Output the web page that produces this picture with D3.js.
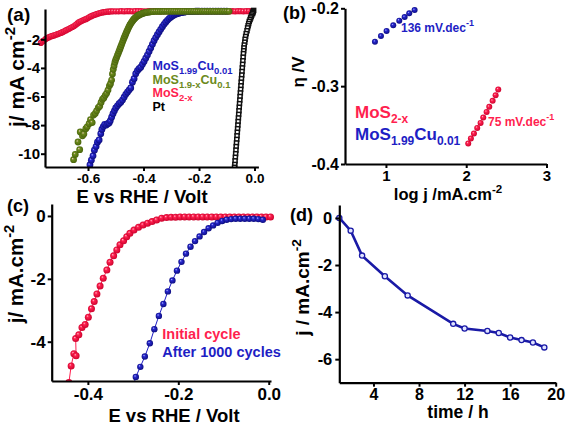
<!DOCTYPE html>
<html><head><meta charset="utf-8">
<script src="https://cdn.jsdelivr.net/npm/d3@7"></script>
<style>
body{margin:0;background:#fff}
svg{display:block}
text{font-family:"Liberation Sans",Arial,Helvetica,sans-serif;font-weight:bold}
</style>
</head><body>
<svg id="c" width="567" height="426"></svg>
<script>
// ---------- Panel (a) data ----------
const aRedE = [-0.770,-0.764,-0.758,-0.752,-0.746,-0.740,-0.734,-0.728,-0.722,-0.716,-0.710,-0.704,-0.698,-0.692,-0.686,-0.680,-0.674,-0.668,-0.662,-0.656,-0.650,-0.644,-0.638,-0.632,-0.626,-0.620,-0.614,-0.608,-0.602,-0.596,-0.590,-0.584,-0.578,-0.572,-0.566,-0.560,-0.554,-0.548,-0.542,-0.536,-0.530,-0.524,-0.518,-0.510,
 -0.500,-0.490,-0.480,-0.470,-0.460,-0.450,-0.440,-0.430,-0.420,-0.410,-0.400,-0.390,-0.380,-0.370,-0.360,-0.350,-0.340,-0.330,-0.320,-0.310,-0.300,-0.290,-0.280,-0.270,-0.260,-0.250,-0.240,-0.230,-0.220,-0.210,-0.200,-0.190,-0.180,-0.170,-0.160,-0.150,-0.140,-0.130,-0.120,-0.110,-0.100,-0.090,-0.080,-0.070,-0.060,-0.050,-0.040,-0.030,-0.020,-0.010];
const aRedJ = [-2.25,-2.15,-2.07,-1.97,-1.90,-1.85,-1.80,-1.76,-1.73,-1.68,-1.64,-1.60,-1.55,-1.50,-1.44,-1.38,-1.32,-1.26,-1.20,-1.14,-1.07,-0.98,-0.89,-0.80,-0.74,-0.69,-0.64,-0.59,-0.53,-0.46,-0.40,-0.35,-0.30,-0.26,-0.22,-0.18,-0.15,-0.12,-0.10,-0.08,-0.07,-0.06,-0.05,-0.04,
 -0.04,-0.04,-0.03,-0.04,-0.03,-0.03,-0.04,-0.03,-0.03,-0.03,-0.04,-0.04,-0.03,-0.04,-0.03,-0.03,-0.04,-0.03,-0.03,-0.03,-0.04,-0.04,-0.03,-0.04,-0.03,-0.03,-0.04,-0.03,-0.03,-0.03,-0.04,-0.04,-0.03,-0.04,-0.03,-0.03,-0.04,-0.03,-0.03,-0.03,-0.04,-0.04,-0.03,-0.04,-0.03,-0.03,-0.04,-0.03,-0.03,-0.03];
const aBlueE = [-0.593,-0.588,-0.582,-0.577,-0.571,-0.566,-0.560,-0.554,-0.550,-0.545,-0.540,-0.534,-0.529,-0.524,-0.520,-0.515,-0.510,-0.505,-0.500,-0.494,-0.488,-0.482,-0.476,-0.470,-0.464,-0.458,-0.452,-0.446,-0.440,-0.434,-0.428,-0.422,-0.416,-0.410,-0.404,-0.398,-0.392,-0.386,-0.380,-0.374,-0.368,-0.362,-0.356,-0.350,-0.344,-0.338,-0.332,-0.326,-0.320,-0.314,-0.308,-0.302,-0.296,-0.290,-0.284,-0.278,-0.272,-0.266,-0.260,-0.254,-0.248,-0.242,-0.236,-0.230,-0.224,-0.218,-0.212,-0.206,-0.200,-0.190,-0.180,-0.170,-0.160,-0.150,-0.140,-0.130,-0.120,-0.110,-0.100];
const aBlueJ = [-10.79,-10.45,-10.15,-9.75,-9.50,-9.20,-9.04,-8.60,-8.30,-8.10,-7.95,-8.00,-7.90,-7.85,-7.70,-7.45,-7.20,-7.00,-6.80,-6.65,-6.50,-6.40,-6.25,-6.05,-5.85,-5.70,-5.55,-5.40,-5.00,-4.75,-4.40,-4.20,-4.05,-3.95,-3.75,-3.55,-3.32,-3.10,-2.85,-2.60,-2.35,-2.10,-1.88,-1.68,-1.48,-1.30,-1.12,-0.95,-0.80,-0.67,-0.55,-0.45,-0.37,-0.30,-0.25,-0.21,-0.17,-0.14,-0.12,-0.10,-0.08,-0.07,-0.06,-0.05,-0.04,-0.04,-0.03,-0.03,-0.03,-0.03,-0.03,-0.03,-0.03,-0.03,-0.03,-0.03,-0.03,-0.03,-0.03];
const aGreenE = [-0.652,-0.646,-0.636,-0.630,-0.628,-0.620,-0.615,-0.608,-0.603,-0.596,-0.591,-0.585,-0.580,-0.574,-0.569,-0.563,-0.558,-0.553,-0.548,-0.543,-0.538,-0.533,-0.528,-0.523,-0.519,-0.515,-0.512,-0.509,-0.506,-0.503,-0.500,-0.497,-0.494,-0.491,-0.488,-0.485,-0.482,-0.479,-0.476,-0.473,-0.470,-0.467,-0.464,-0.461,-0.458,-0.455,-0.452,-0.449,-0.446,-0.443,-0.440,-0.437,-0.434,-0.431,-0.428,-0.425,-0.422,-0.419,-0.416,-0.413,-0.410,-0.406,-0.402,-0.398,-0.394,-0.390,-0.385,-0.380,-0.375,-0.370,-0.364,
 -0.356,-0.348,-0.340,-0.332,-0.324,-0.316,-0.308,-0.300,-0.292,-0.284,-0.276,-0.268,-0.260,-0.252,-0.244,-0.236,-0.228,-0.220,-0.212,-0.204,-0.196,-0.188,-0.180,-0.172,-0.164,-0.156,-0.148,-0.140,-0.132,-0.124,-0.116,-0.108,-0.100,-0.092];
const aGreenJ = [-10.42,-10.05,-9.18,-9.72,-8.48,-8.75,-8.62,-8.25,-8.12,-7.90,-7.62,-7.82,-7.30,-7.18,-7.00,-6.78,-6.68,-6.42,-6.20,-6.10,-5.92,-5.78,-5.55,-5.25,-5.10,-4.85,-4.42,-4.10,-3.85,-3.60,-3.42,-3.28,-3.12,-2.98,-2.82,-2.67,-2.52,-2.37,-2.21,-2.05,-1.90,-1.76,-1.62,-1.49,-1.36,-1.23,-1.11,-1.00,-0.90,-0.81,-0.73,-0.65,-0.58,-0.52,-0.46,-0.41,-0.37,-0.33,-0.30,-0.27,-0.24,-0.21,-0.18,-0.16,-0.14,-0.12,-0.10,-0.09,-0.08,-0.07,-0.06,
 -0.05,-0.05,-0.05,-0.05,-0.04,-0.04,-0.04,-0.04,-0.04,-0.04,-0.04,-0.04,-0.04,-0.04,-0.04,-0.04,-0.04,-0.04,-0.04,-0.04,-0.04,-0.04,-0.04,-0.04,-0.04,-0.04,-0.04,-0.04,-0.04,-0.04,-0.04,-0.04,-0.04,-0.04];
const aPtE = [-0.003,-0.005,-0.006,-0.007,-0.010,-0.012,-0.014,-0.016,-0.019,-0.021,-0.023,-0.025,-0.027,-0.030,-0.032,-0.034,-0.035,-0.037,-0.038,-0.039,-0.040,-0.041,-0.042,-0.043,-0.044,-0.045,-0.046,-0.047,-0.048,-0.049,-0.050,-0.051,-0.052,-0.053,-0.054,-0.055,-0.056,-0.057,-0.058,-0.059,-0.060,-0.061,-0.062,-0.063,-0.064,-0.065,-0.066,-0.067,-0.068,-0.069,-0.070,-0.071,-0.072];
const aPtJ = [0.02,-0.05,-0.12,-0.20,-0.30,-0.40,-0.50,-0.62,-0.75,-0.90,-1.05,-1.20,-1.40,-1.60,-1.80,-2.00,-2.20,-2.40,-2.60,-2.80,-3.00,-3.25,-3.50,-3.75,-4.00,-4.25,-4.50,-4.75,-5.00,-5.25,-5.50,-5.75,-6.00,-6.25,-6.50,-6.75,-7.00,-7.25,-7.50,-7.75,-8.00,-8.25,-8.50,-8.75,-9.00,-9.25,-9.50,-9.75,-10.00,-10.25,-10.50,-10.75,-10.95];
const aXTicks = [-0.6,-0.4,-0.2,0.0];
const aYTicks = [-10,-8,-6,-4,-2];

// ---------- Panel (b) data ----------
const bBlueLogJ = [0.863,0.938,1.008,1.091,1.166,1.233,1.290,1.357];
const bBlueEta  = [-0.2430,-0.2356,-0.2291,-0.2218,-0.2159,-0.2112,-0.2064,-0.2022];
const bRedLogJ  = [2.025,2.058,2.096,2.137,2.179,2.212,2.254,2.287,2.329,2.366,2.399];
const bRedEta   = [-0.3737,-0.3673,-0.3609,-0.3537,-0.3472,-0.3403,-0.3331,-0.3266,-0.3189,-0.3116,-0.3042];
const bXTicks = [1,2,3];
const bYTicks = [-0.4,-0.3,-0.2];

// ---------- Panel (c) data ----------
const cInitE = [-0.442,-0.437,-0.431,-0.426,-0.427,-0.420,-0.413,-0.406,-0.399,-0.392,-0.386,-0.380,-0.373,-0.366,-0.358,-0.351,-0.343,-0.336,-0.329,-0.321,-0.314,-0.307,-0.298,-0.288,-0.278,-0.268,-0.258,-0.248,-0.237,-0.226,-0.216,-0.206,-0.196,-0.186,-0.176,-0.166,-0.156,-0.146,-0.136,-0.126,-0.116,-0.106,-0.096,-0.086,-0.076,-0.066,-0.056,-0.046,-0.036,-0.026,-0.016,-0.006,0.004];
const cInitJ = [-5.30,-4.77,-4.38,-4.45,-3.90,-3.78,-3.55,-3.45,-3.22,-2.95,-2.72,-2.48,-2.23,-1.98,-1.72,-1.47,-1.27,-1.08,-0.92,-0.79,-0.66,-0.55,-0.45,-0.36,-0.29,-0.23,-0.18,-0.13,-0.07,-0.05,-0.04,-0.04,-0.03,-0.03,-0.03,-0.03,-0.03,-0.03,-0.03,-0.03,-0.03,-0.03,-0.03,-0.03,-0.03,-0.03,-0.03,-0.03,-0.03,-0.03,-0.03,-0.03,-0.03];
const cAfterE = [-0.300,-0.294,-0.284,-0.274,-0.263,-0.253,-0.243,-0.233,-0.223,-0.213,-0.203,-0.193,-0.183,-0.173,-0.163,-0.153,-0.143,-0.133,-0.123,-0.113,-0.103,-0.093,-0.083,-0.073,-0.063,-0.053,-0.043,-0.033,-0.023,-0.013];
const cAfterJ = [-5.45,-5.12,-4.80,-4.47,-4.05,-3.60,-3.18,-2.80,-2.40,-2.05,-1.74,-1.46,-1.20,-0.98,-0.80,-0.65,-0.51,-0.39,-0.30,-0.22,-0.16,-0.12,-0.10,-0.09,-0.09,-0.09,-0.09,-0.09,-0.10,-0.12];
const cXTicks = [-0.4,-0.2,0.0];
const cYTicks = [-4,-2,0];

// ---------- Panel (d) data ----------
const dTime = [1,2,3,5,7,11,12,14,15,16,17,18,19];
const dJ    = [0,-0.54,-1.60,-2.48,-3.29,-4.50,-4.70,-4.80,-4.89,-5.08,-5.19,-5.29,-5.50];
const dXTicks = [4,8,12,16,20];
const dYTicks = [-6,-4,-2,0];

// ---------- colours ----------
const RED = "#ff1f4f", BLUE = "#1e1ec4", GREEN = "#6b8a1c", DBLUE = "#1a1aa6";

const svg = d3.select("#c");
const defs = svg.append("defs");
function ball(id, hi, mid, dark){
  const g = defs.append("radialGradient").attr("id", id)
    .attr("cx","50%").attr("cy","50%").attr("r","55%").attr("fx","35%").attr("fy","32%");
  g.append("stop").attr("offset","0%").attr("stop-color",hi);
  g.append("stop").attr("offset","30%").attr("stop-color",mid);
  g.append("stop").attr("offset","100%").attr("stop-color",dark);
}
ball("gRedA", "#ffd6de", "#ff2a55", "#d0002c");
ball("gBlue", "#c0c4ff", "#2828d0", "#0a0a78");
ball("gGreen", "#f2c6c6", "#6c8c1c", "#46600a");
ball("gRed", "#ffc0cc", "#ff2050", "#c8002a");

const pts = (xs, ys) => xs.map((v,i)=>[v, ys[i]]).filter(p => p[1] !== undefined);
const fmtDash = f => (v => f(v).replace("\u2212","-"));

function rich(sel, parts, fs, small){
  let shift = 0;
  parts.forEach(([t,k]) => {
    const target = k === "sub" ? fs*0.28 : (k === "sup" ? -fs*0.42 : 0);
    sel.append("tspan").attr("dy", (target - shift).toFixed(2))
       .attr("font-size", k === "n" ? fs : (small || fs*0.72)).text(t);
    shift = target;
  });
}

function panel(cfg){
  const x = d3.scaleLinear().domain(cfg.xd).range([cfg.x0, cfg.x1]);
  const y = d3.scaleLinear().domain(cfg.yd).range([cfg.y0, cfg.y1]);
  const g = svg.append("g");
  const clipId = "clip" + cfg.id;
  defs.append("clipPath").attr("id", clipId).append("rect")
    .attr("x", cfg.x0 - 12).attr("y", cfg.y1 - 8)
    .attr("width", cfg.x1 - cfg.x0 + 20).attr("height", cfg.y0 - cfg.y1 + 9);
  const plot = g.append("g").attr("clip-path", `url(#${clipId})`);
  const xa = g.append("g").attr("transform", `translate(0,${cfg.y0})`)
    .call(d3.axisBottom(x).tickValues(cfg.xt).tickFormat(fmtDash(cfg.xf))
      .tickSize(4).tickSizeOuter(0).tickPadding(cfg.xpad));
  const ya = g.append("g").attr("transform", `translate(${cfg.x0},0)`)
    .call(d3.axisLeft(y).tickValues(cfg.yt).tickFormat(fmtDash(cfg.yf))
      .tickSize(4).tickSizeOuter(0).tickPadding(cfg.ypad));
  [xa, ya].forEach((a,i) => {
    a.attr("font-family", null).attr("font-size", null);
    a.select(".domain").attr("stroke","#000").attr("stroke-width",2.2);
    a.selectAll(".tick line").attr("stroke","#000").attr("stroke-width",2);
    a.selectAll(".tick text").attr("fill","#000")
      .attr("font-size", i === 0 ? cfg.xfs : cfg.yfs);
  });
  return {g, plot, x, y};
}

function balls(p, data, grad, r){
  p.plot.append("g").selectAll("circle").data(data).join("circle")
    .attr("cx", d => p.x(d[0])).attr("cy", d => p.y(d[1])).attr("r", r)
    .attr("fill", `url(#${grad})`);
}
function thinLine(p, data, color, w){
  p.plot.append("path").datum(data)
    .attr("d", d3.line().x(d=>p.x(d[0])).y(d=>p.y(d[1])))
    .attr("fill","none").attr("stroke",color).attr("stroke-width",w);
}

// ================= Panel (a) =================
const A = panel({id:"a", x0:45, x1:258.4, y0:167, y1:9, xd:[-0.755,0.014], yd:[-10.93,0.12],
  xt:aXTicks, yt:aYTicks, xf:d3.format(".1f"), yf:d3.format("d"), xpad:2, ypad:1, xfs:13.5, yfs:15});
balls(A, pts(aRedE, aRedJ), "gRedA", 3.1);
balls(A, pts(aBlueE, aBlueJ), "gBlue", 3.4);
balls(A, pts(aGreenE, aGreenJ), "gGreen", 3.4);
A.plot.append("g").selectAll("rect").data(pts(aPtE, aPtJ)).join("rect")
  .attr("x", d => A.x(d[0]) - 2).attr("y", d => A.y(d[1]) - 2)
  .attr("width", 4).attr("height", 4)
  .attr("fill", "#fff").attr("stroke", "#111").attr("stroke-width", 1.5);

svg.append("text").attr("x", 142).attr("y", 203).attr("text-anchor","middle")
  .attr("font-size", 18.5).text("E vs RHE / Volt");
rich(svg.append("text").attr("transform","translate(24,77) rotate(-90)").attr("text-anchor","middle"),
  [["j/ mA cm","n"],["-2","sup"]], 21);
svg.append("text").attr("x", 7).attr("y", 21).attr("font-size", 19).text("(a)");
const legA = [
  {c: BLUE,  p: [["MoS","n"],["1.99","sub"],["Cu","n"],["0.01","sub"]], y: 70},
  {c: GREEN, p: [["MoS","n"],["1.9-x","sub"],["Cu","n"],["0.1","sub"]], y: 84},
  {c: RED,   p: [["MoS","n"],["2-x","sub"]], y: 97},
  {c: "#000",p: [["Pt","n"]], y: 111}
];
legA.forEach(l => rich(svg.append("text").attr("x",152.5).attr("y",l.y).attr("fill",l.c), l.p, 12.5, 9.5));

// ================= Panel (b) =================
const B = panel({id:"b", x0:345, x1:546.5, y0:164, y1:8.3, xd:[0.49,3], yd:[-0.4,-0.2],
  xt:bXTicks, yt:bYTicks, xf:d3.format("d"), yf:d3.format(".1f"), xpad:2.5, ypad:2, xfs:15, yfs:16});
balls(B, pts(bBlueLogJ, bBlueEta), "gBlue", 3);
balls(B, pts(bRedLogJ, bRedEta), "gRed", 3);
rich(svg.append("text").attr("x",401).attr("y",31.5).attr("fill",BLUE), [["136 mV.dec","n"],["-1","sup"]], 12, 9);
rich(svg.append("text").attr("x",488).attr("y",125.5).attr("fill",RED), [["75 mV.dec","n"],["-1","sup"]], 12, 9);
rich(svg.append("text").attr("x",355).attr("y",118.3).attr("fill",RED), [["MoS","n"],["2-x","sub"]], 17, 12);
rich(svg.append("text").attr("x",355).attr("y",140).attr("fill",BLUE), [["MoS","n"],["1.99","sub"],["Cu","n"],["0.01","sub"]], 17, 12);
rich(svg.append("text").attr("x", 448).attr("y", 199.5).attr("text-anchor","middle"),
  [["log j /mA.cm","n"],["-2","sup"]], 16.5, 11.5);
svg.append("text").attr("transform","translate(304,72) rotate(-90)").attr("text-anchor","middle")
  .attr("font-size", 17).text("\u03b7 /V");
svg.append("text").attr("x", 283).attr("y", 19).attr("font-size", 18).text("(b)");

// ================= Panel (c) =================
const C = panel({id:"c", x0:51.7, x1:271, y0:381, y1:204, xd:[-0.48,0.005], yd:[-5.25,0.38],
  xt:cXTicks, yt:cYTicks, xf:d3.format(".1f"), yf:d3.format("d"), xpad:3, ypad:2, xfs:17, yfs:17});
thinLine(C, pts(cInitE, cInitJ), RED, 1);
thinLine(C, pts(cAfterE, cAfterJ), BLUE, 1);
balls(C, pts(cInitE, cInitJ), "gRed", 3.5);
balls(C, pts(cAfterE, cAfterJ), "gBlue", 3.2);
svg.append("text").attr("x",162.3).attr("y",339.3).attr("fill",RED).attr("font-size",14.5).text("Initial cycle");
svg.append("text").attr("x",162.3).attr("y",356.7).attr("fill",BLUE).attr("font-size",14.5).text("After 1000 cycles");
svg.append("text").attr("x", 174).attr("y", 422).attr("text-anchor","middle")
  .attr("font-size", 18.5).text("E vs RHE / Volt");
rich(svg.append("text").attr("transform","translate(23,274) rotate(-90)").attr("text-anchor","middle"),
  [["j/ mA.cm","n"],["-2","sup"]], 20.5);
svg.append("text").attr("x", 7).attr("y", 212).attr("font-size", 18).text("(c)");

// ================= Panel (d) =================
const D = panel({id:"d", x0:339.3, x1:555.7, y0:382.7, y1:205, xd:[1,20], yd:[-7,0.55],
  xt:dXTicks, yt:dYTicks, xf:d3.format("d"), yf:d3.format("d"), xpad:2, ypad:3, xfs:16, yfs:16.5});
D.plot.append("path").datum(pts(dTime, dJ))
  .attr("d", d3.line().x(d=>D.x(d[0])).y(d=>D.y(d[1])))
  .attr("fill","none").attr("stroke",DBLUE).attr("stroke-width",2.6);
D.plot.append("g").selectAll("circle").data(pts(dTime, dJ)).join("circle")
  .attr("cx", d=>D.x(d[0])).attr("cy", d=>D.y(d[1])).attr("r", 2.6)
  .attr("fill","#dfe3ff").attr("stroke",DBLUE).attr("stroke-width",1.3);
svg.append("text").attr("x", 458).attr("y", 418).attr("text-anchor","middle")
  .attr("font-size", 17.5).text("time / h");
rich(svg.append("text").attr("transform","translate(309,287.5) rotate(-90)").attr("text-anchor","middle"),
  [["j / mA.cm","n"],["-2","sup"]], 19);
svg.append("text").attr("x", 290).attr("y", 221).attr("font-size", 18).text("(d)");
</script>
</body></html>
